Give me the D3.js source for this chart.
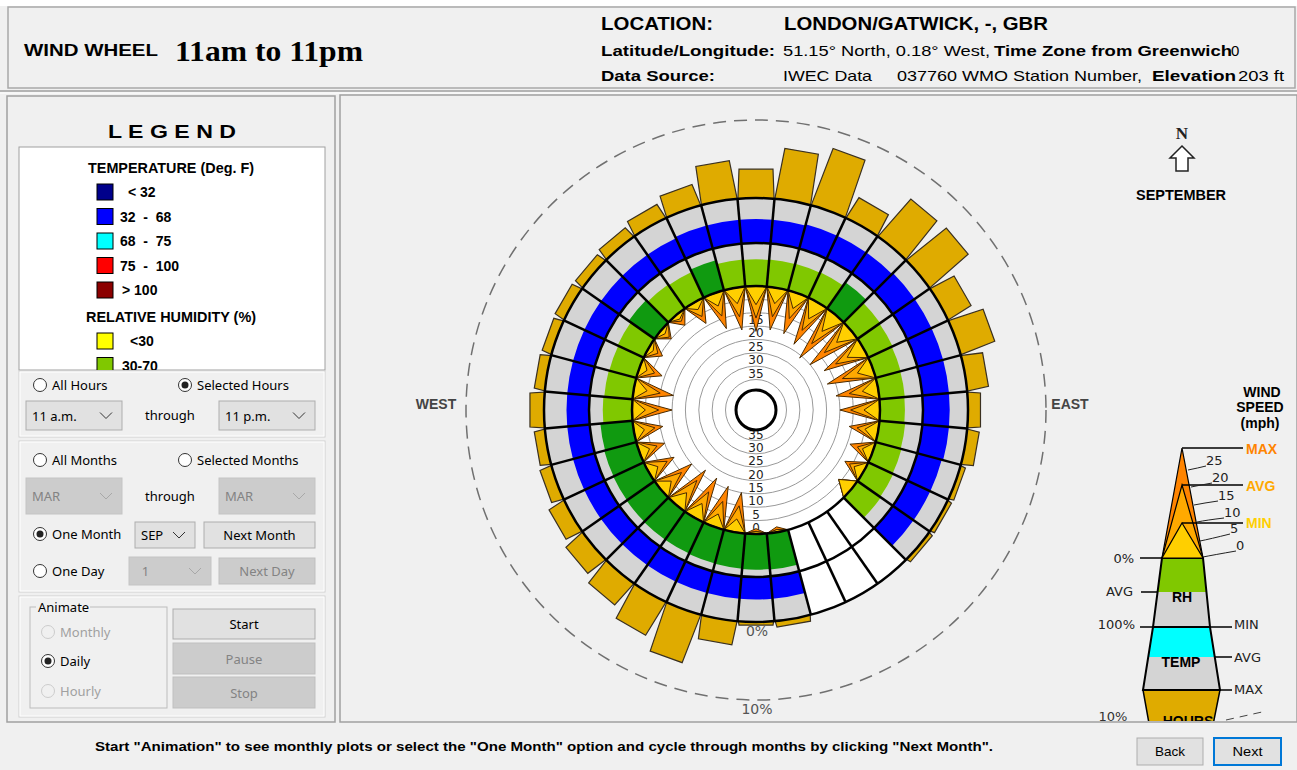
<!DOCTYPE html>
<html lang="en">
<head>
<meta charset="UTF-8">
<title>Wind Wheel</title>
<script src="https://cdn.jsdelivr.net/npm/d3@7/dist/d3.min.js"></script>
<style>
  body { margin: 0; background: #f0f0f0; }
  svg { display: block; }
  text { white-space: pre; }
</style>
</head>
<body>
<script>
// ---- data (September, 11am - 11pm, London/Gatwick) ----
const directions = [0, 10, 20, 30, 40, 50, 60, 70, 80, 90, 100, 110, 120, 130, 140, 150, 160, 170,
                    180, 190, 200, 210, 220, 230, 240, 250, 260, 270, 280, 290, 300, 310, 320, 330, 340, 350];
// % of hours wind comes from each direction (null = no data)
const hoursPct = [3.7, 6.5, 7.7, 3.0, 6.3, 6.5, 3.4, 4.6, 2.7, 1.6, 1.5, 0.6, 0.5, 0.5, null, null, null, 0.7,
                  0.4, 3.0, 6.5, 4.9, 3.6, 2.8, 2.2, 1.5, 1.3, 1.8, 1.3, 1.2, 1.3, 1.2, 1.5, 2.0, 2.8, 4.9];
// wind speed, mph
const windMax = [17, 16, 16, 18, 21, 20, 17, 18, 16, 15, 11, 9, 8, 6, null, null, null, 2,
                 2, 15, 16, 17, 17, 15, 11, 10, 11, 15, 15, 9, 6, 5, 5, 9, 14, 16];
const windAvg = [12, 11, 10, 12, 14, 13, 12, 12, 11, 11, 8, 6, 6, 6, null, null, null, 1,
                 1, 10, 10, 11, 12, 10, 8, 7, 8, 10, 10, 6, 4, 4, 3, 6, 9, 11];
const windMin = [7, 6, 6, 7, 8, 7, 7, 6, 6, 6, 5, 4, 4, 6, null, null, null, 1,
                 1, 5, 5, 6, 6, 5, 4, 4, 4, 5, 5, 3, 2, 2, 2, 3, 5, 6];
// average relative humidity, %
const rhAvg = [62, 63, 64, 65, 74, 64, 62, 60, 59, 58, 60, 62, 64, 66, null, null, null, 84,
               83, 82, 81, 80, 80, 79, 78, 77, 75, 68, 66, 65, 67, 73, 68, 66, 72, 63];
// average dry bulb temperature, deg F
const tempAvg = [61, 61, 62, 62, 62, 63, 63, 63, 63, 63, 63, 62, 62, 62, null, null, null, 60,
                 60, 60, 60, 60, 60, 60, 60, 60, 60, 60, 60, 60, 60, 60, 60, 60, 61, 61];

const windTicks = [0, 5, 10, 15, 20, 25, 30, 35];
const windTicksUpper = [15, 20, 25, 30, 35];
const hourTicks = [0, 10];
const tempLegend = ['< 32', '32  -  68', '68  -  75', '75  -  100', '> 100'];
const rhLegend = ['<30', '30-70'];

// ---- colours ----
const tempColors = ['#00008b', '#0000ff', '#00ffff', '#ff0000', '#8b0000'];
const rhColors = ['#ffff00', '#80c800', '#109a10'];
const tempColor = t => t < 32 ? tempColors[0] : t < 68 ? tempColors[1] : t < 75 ? tempColors[2] : t < 100 ? tempColors[3] : tempColors[4];
const rhColor = h => h < 30 ? rhColors[0] : h <= 70 ? rhColors[1] : rhColors[2];
const GOLD = '#dfab00', GRAY = '#d4d4d4';

const W = 1297, H = 770;
const cx = 756, cy = 410;

const svg = d3.select('body').append('svg')
    .attr('width', W).attr('height', H)
    .style('font-family', '"Liberation Sans", Arial, sans-serif');

function txt(g, x, y, s, o = {}) {
  const t = g.append('text')
      .attr('x', x).attr('y', y)
      .attr('dominant-baseline', 'central')
      .attr('font-size', o.size || 13)
      .attr('font-weight', o.bold ? 'bold' : null)
      .attr('fill', o.fill || '#000')
      .attr('text-anchor', o.anchor || 'start')
      .text(s);
  if (o.family) t.attr('font-family', o.family);
  if (o.len) t.attr('textLength', o.len).attr('lengthAdjust', 'spacingAndGlyphs');
  return t;
}

svg.append('rect').attr('width', W).attr('height', H).attr('fill', '#f0f0f0');
svg.append('rect').attr('width', W).attr('height', 6).attr('fill', '#fff');

// ---- header ----
const head = svg.append('g');
head.append('rect').attr('x', 8).attr('y', 7).attr('width', 1287).attr('height', 81)
    .attr('fill', '#f0f0f0').attr('stroke', '#a8a8a8').attr('stroke-width', 1.5);
txt(head, 24, 50, 'WIND WHEEL', {bold: true, size: 17, len: 134});
txt(head, 175, 50, '11am to 11pm', {bold: true, size: 30, len: 188, family: '"Liberation Serif", serif'});
txt(head, 601, 24, 'LOCATION:', {bold: true, size: 18, len: 112});
txt(head, 784, 24, 'LONDON/GATWICK, -, GBR', {bold: true, size: 18, len: 264});
txt(head, 601, 50, 'Latitude/Longitude:', {bold: true, size: 15, len: 174});
txt(head, 783, 50, '51.15° North, 0.18° West,', {size: 15, len: 207});
txt(head, 994, 50, 'Time Zone from Greenwich', {bold: true, size: 15, len: 238});
txt(head, 1231, 50, '0', {size: 15});
txt(head, 601, 75, 'Data Source:', {bold: true, size: 15, len: 114});
txt(head, 783, 75, 'IWEC Data', {size: 15, len: 89});
txt(head, 897, 75, '037760 WMO Station Number,', {size: 15, len: 245});
txt(head, 1152, 75, 'Elevation', {bold: true, size: 15, len: 84});
txt(head, 1238, 75, '203 ft', {size: 15, len: 46});
svg.append('line').attr('x1', 0).attr('x2', W).attr('y1', 91).attr('y2', 91).attr('stroke', '#a0a0a0').attr('stroke-width', 1.5);
svg.append('line').attr('x1', 0).attr('x2', W).attr('y1', 93).attr('y2', 93).attr('stroke', '#fff');

// ---- left panel ----
const left = svg.append('g');
left.append('rect').attr('x', 7).attr('y', 96).attr('width', 328).attr('height', 626)
    .attr('fill', '#f0f0f0').attr('stroke', '#a0a0a0').attr('stroke-width', 1.5);
txt(left, 172, 131, 'L E G E N D', {bold: true, size: 19, anchor: 'middle', len: 128});

const lg = left.append('g');
const legClip = svg.append('clipPath').attr('id', 'legclip');
legClip.append('rect').attr('x', 19).attr('y', 147).attr('width', 306).attr('height', 223);
lg.append('rect').attr('x', 19).attr('y', 147).attr('width', 306).attr('height', 223)
    .attr('fill', '#fff').attr('stroke', '#a0a0a0');
const lgi = lg.append('g').attr('clip-path', 'url(#legclip)');
txt(lgi, 171, 168, 'TEMPERATURE (Deg. F)', {bold: true, size: 14, anchor: 'middle', len: 166});
tempLegend.forEach((s, i) => {
  const y = 192 + i * 24.5;
  lgi.append('rect').attr('x', 97).attr('y', y - 8).attr('width', 16).attr('height', 16)
      .attr('fill', tempColors[i]).attr('stroke', '#000');
  txt(lgi, i === 0 ? 128 : i === 4 ? 122 : 120, y, s, {bold: true, size: 14});
});
txt(lgi, 171, 317, 'RELATIVE HUMIDITY (%)', {bold: true, size: 14, anchor: 'middle', len: 170});
rhLegend.forEach((s, i) => {
  const y = 341 + i * 24.5;
  lgi.append('rect').attr('x', 97).attr('y', y - 8).attr('width', 16).attr('height', 16)
      .attr('fill', rhColors[i]).attr('stroke', '#000');
  txt(lgi, i === 0 ? 130 : 122, y, s, {bold: true, size: 14});
});

const UI = '"Noto Sans", "Open Sans", sans-serif';
function radio(g, x, y, label, checked, disabled) {
  g.append('circle').attr('cx', x).attr('cy', y).attr('r', 6.5)
      .attr('fill', disabled ? '#f0f0f0' : '#fff').attr('stroke', disabled ? '#ccc' : '#333');
  if (checked) g.append('circle').attr('cx', x).attr('cy', y).attr('r', 3.5).attr('fill', '#222');
  txt(g, x + 12, y, label, {size: 13, family: UI, fill: disabled ? '#a0a0a0' : '#000'});
}
function combo(g, x, y, w, h, label, disabled) {
  g.append('rect').attr('x', x).attr('y', y).attr('width', w).attr('height', h)
      .attr('fill', disabled ? '#cccccc' : '#e1e1e1').attr('stroke', disabled ? '#c4c4c4' : '#adadad');
  txt(g, x + 6, y + h / 2, label, {size: 13, family: UI, fill: disabled ? '#838383' : '#000'});
  const ax = x + w - 16, ay = y + h / 2;
  g.append('path').attr('d', `M${ax - 6},${ay - 3}L${ax},${ay + 3}L${ax + 6},${ay - 3}`)
      .attr('fill', 'none').attr('stroke', disabled ? '#a8a8a8' : '#333');
}
function button(g, x, y, w, h, label, o = {}) {
  g.append('rect').attr('x', x).attr('y', y).attr('width', w).attr('height', h)
      .attr('fill', o.disabled ? '#cccccc' : '#e1e1e1')
      .attr('stroke', o.focus ? '#0078d7' : o.disabled ? '#bfbfbf' : '#adadad')
      .attr('stroke-width', o.focus ? 2 : 1);
  txt(g, x + w / 2, y + h / 2, label, {size: o.size || 13, family: o.family || UI, anchor: 'middle',
      fill: o.disabled ? '#838383' : '#000', bold: o.bold, len: o.len});
}
function box(g, x, y, w, h) {
  g.append('rect').attr('x', x).attr('y', y).attr('width', w).attr('height', h)
      .attr('fill', 'none').attr('stroke', '#d0d0d0');
  g.append('rect').attr('x', x + 1).attr('y', y + 1).attr('width', w - 2).attr('height', h - 2)
      .attr('fill', 'none').attr('stroke', '#fff');
}
box(left, 19, 371, 306, 66);
radio(left, 40, 385, 'All Hours', false, false);
radio(left, 185, 385, 'Selected Hours', true, false);
combo(left, 26, 401, 96, 29, '11 a.m.', false);
txt(left, 170, 415, 'through', {size: 13, family: UI, anchor: 'middle'});
combo(left, 219, 401, 96, 29, '11 p.m.', false);

box(left, 19, 441, 306, 151);
radio(left, 40, 460, 'All Months', false, false);
radio(left, 185, 460, 'Selected Months', false, false);
combo(left, 26, 478, 96, 36, 'MAR', true);
txt(left, 170, 496, 'through', {size: 13, family: UI, anchor: 'middle'});
combo(left, 219, 478, 96, 36, 'MAR', true);
radio(left, 40, 534, 'One Month', true, false);
combo(left, 135, 522, 60, 26, 'SEP', false);
button(left, 204, 522, 111, 26, 'Next Month');
radio(left, 40, 571, 'One Day', false, false);
combo(left, 129, 557, 82, 28, '  1', true);
button(left, 219, 558, 96, 26, 'Next Day', {disabled: true});

box(left, 19, 596, 306, 121);
left.append('rect').attr('x', 30).attr('y', 607).attr('width', 137).attr('height', 101)
    .attr('fill', 'none').attr('stroke', '#bcbcbc');
left.append('rect').attr('x', 36).attr('y', 600).attr('width', 54).attr('height', 14).attr('fill', '#f0f0f0');
txt(left, 38, 607, 'Animate', {size: 13, family: UI});
radio(left, 48, 632, 'Monthly', false, true);
radio(left, 48, 661, 'Daily', true, false);
radio(left, 48, 691, 'Hourly', false, true);
button(left, 173, 609, 142, 30, 'Start');
button(left, 173, 643, 142, 31, 'Pause', {disabled: true});
button(left, 173, 677, 142, 31, 'Stop', {disabled: true});

// ---- main chart panel ----
svg.append('rect').attr('x', 340).attr('y', 95).attr('width', 957).attr('height', 627)
    .attr('fill', '#f0f0f0').attr('stroke', '#a0a0a0').attr('stroke-width', 1.5);
svg.append('clipPath').attr('id', 'panelclip')
  .append('rect').attr('x', 342).attr('y', 96).attr('width', 954).attr('height', 625);
const panel = svg.append('g').attr('clip-path', 'url(#panelclip)');

// scales
const rWind = d3.scaleLinear().domain([0, 35]).range([124, 30.5]);
const rRH = d3.scaleLinear().domain([0, 100]).range([124, 167]);
const rTemp = d3.scaleLinear().domain([44, 76]).range([167, 212]);
const rHours = d3.scaleLinear().domain([0, 10]).range([212, 290]);
const ang = d3.scaleLinear().domain([0, 360]).range([0, 2 * Math.PI]);
const HALF = 5;
const pt = (deg, r) => [r * Math.sin(ang(deg)), -r * Math.cos(ang(deg))];

const wheel = panel.append('g').attr('transform', `translate(${cx},${cy})`);
const sectors = directions.map((d, i) => ({
  dir: d, hours: hoursPct[i], max: windMax[i], avg: windAvg[i], min: windMin[i], rh: rhAvg[i], temp: tempAvg[i]
}));

// 10% dashed ring + % labels
wheel.append('circle').attr('r', rHours(10)).attr('fill', 'none')
    .attr('stroke', '#707070').attr('stroke-width', 1.5).attr('stroke-dasharray', '13 8');
hourTicks.forEach(t => txt(wheel, 1, rHours(t) + 9, t + '%', {size: 14, anchor: 'middle', fill: '#555', family: '"DejaVu Sans", sans-serif'}));

// hours bars
const barW = 17;
wheel.append('g').selectAll('path')
  .data(sectors.filter(s => s.hours))
  .join('path')
    .attr('d', s => {
      const a = ang(s.dir);
      const r0 = rHours(0) - 3, r1 = rHours(s.hours);
      const u = [Math.sin(a), -Math.cos(a)], p = [Math.cos(a), Math.sin(a)];
      const b0 = pt(s.dir - HALF, r0), b1 = pt(s.dir + HALF, r0);
      const t0 = [u[0] * r1 - p[0] * barW, u[1] * r1 - p[1] * barW];
      const t1 = [u[0] * r1 + p[0] * barW, u[1] * r1 + p[1] * barW];
      return 'M' + [b0, t0, t1, b1].join('L') + 'Z';
    })
    .attr('fill', GOLD).attr('stroke', '#3a3020').attr('stroke-width', 1.2);

// RH + temperature rings
const arc = d3.arc();
const ringG = wheel.append('g');
sectors.forEach(s => {
  const a0 = ang(s.dir - HALF), a1 = ang(s.dir + HALF);
  const noData = s.rh == null;
  ringG.append('path').attr('d', arc({innerRadius: rRH(0), outerRadius: rRH(100), startAngle: a0, endAngle: a1}))
      .attr('fill', noData ? '#fff' : GRAY);
  ringG.append('path').attr('d', arc({innerRadius: rTemp.range()[0], outerRadius: rTemp.range()[1], startAngle: a0, endAngle: a1}))
      .attr('fill', noData ? '#fff' : GRAY);
  if (noData) return;
  ringG.append('path').attr('d', arc({innerRadius: rRH(0), outerRadius: rRH(s.rh), startAngle: a0, endAngle: a1}))
      .attr('fill', rhColor(s.rh));
  ringG.append('path').attr('d', arc({innerRadius: rTemp.range()[0], outerRadius: rTemp(s.temp), startAngle: a0, endAngle: a1}))
      .attr('fill', tempColor(s.temp));
});

// wind speed area
wheel.append('circle').attr('r', rWind(0)).attr('fill', '#fff');
wheel.append('g').selectAll('circle').data(windTicks.slice(1)).join('circle')
    .attr('r', d => rWind(d)).attr('fill', 'none').attr('stroke', '#9a9a9a').attr('stroke-width', 1);
const lblFont = '"DejaVu Sans", Verdana, sans-serif';
windTicks.forEach(t => txt(wheel, 0, rWind(t) - 6, String(t), {size: 12, anchor: 'middle', fill: '#222', family: lblFont}));
windTicksUpper.forEach(t => txt(wheel, 0, -rWind(t) - 6, String(t), {size: 12, anchor: 'middle', fill: '#222', family: lblFont}));

// speed spikes: max, avg, min nested
const spikeSeries = [
  {key: 'max', fill: '#ff8400'},
  {key: 'avg', fill: '#ffa900'},
  {key: 'min', fill: '#ffcf00'}
];
spikeSeries.forEach(ser => {
  wheel.append('g').selectAll('path')
    .data(sectors.filter(s => s[ser.key] != null))
    .join('path')
      .attr('d', s => 'M' + [pt(s.dir - HALF, rWind(0)), pt(s.dir, rWind(s[ser.key])), pt(s.dir + HALF, rWind(0))].join('L') + 'Z')
      .attr('fill', ser.fill).attr('stroke', '#4a2a00').attr('stroke-width', 1)
      .attr('stroke-linejoin', 'miter');
});

// ring outlines
[rWind(0), rRH(100), rTemp.range()[1]].forEach(r =>
  wheel.append('circle').attr('r', r).attr('fill', 'none').attr('stroke', '#000').attr('stroke-width', 2.5));
wheel.append('g').selectAll('line').data(sectors).join('line')
    .attr('x1', s => pt(s.dir - HALF, rWind(0))[0]).attr('y1', s => pt(s.dir - HALF, rWind(0))[1])
    .attr('x2', s => pt(s.dir - HALF, rTemp.range()[1])[0]).attr('y2', s => pt(s.dir - HALF, rTemp.range()[1])[1])
    .attr('stroke', '#000').attr('stroke-width', 2.5);
wheel.append('circle').attr('r', 20).attr('fill', '#fff').attr('stroke', '#000').attr('stroke-width', 3);

// compass labels
txt(panel, 436, 404, 'WEST', {bold: true, size: 14, anchor: 'middle', fill: '#444'});
txt(panel, 1070, 404, 'EAST', {bold: true, size: 14, anchor: 'middle', fill: '#444'});
txt(panel, 1182, 133, 'N', {bold: true, size: 17, anchor: 'middle', fill: '#222', family: '"Liberation Serif", serif'});
panel.append('path').attr('d', 'M1182,146L1194,158L1188,158L1188,171L1176,171L1176,158L1170,158Z')
    .attr('fill', '#fff').attr('stroke', '#222').attr('stroke-width', 1.5);
txt(panel, 1181, 195, 'SEPTEMBER', {bold: true, size: 14, anchor: 'middle', len: 90});

// ---- wind speed key (cone) ----
const key = panel.append('g');
txt(key, 1262, 392, 'WIND', {bold: true, size: 14, anchor: 'middle'});
txt(key, 1260, 407, 'SPEED', {bold: true, size: 14, anchor: 'middle'});
txt(key, 1260, 423, '(mph)', {bold: true, size: 14, anchor: 'middle'});
const line = (x1, y1, x2, y2) => key.append('line').attr('x1', x1).attr('y1', y1).attr('x2', x2).attr('y2', y2)
    .attr('stroke', '#000').attr('stroke-width', 1.5);
const poly = (pts, fill, sw) => key.append('path').attr('d', 'M' + pts.join('L') + 'Z')
    .attr('fill', fill).attr('stroke', sw ? '#000' : 'none').attr('stroke-width', sw || 0);

// hours
poly([[1143, 690], [1220, 690], [1210, 740], [1152, 740]], GOLD, 1.5);
txt(key, 1188, 721, 'HOURS', {bold: true, size: 14, anchor: 'middle'});
txt(key, 1113, 716, '10%', {size: 13, anchor: 'middle', fill: '#333', family: lblFont});
key.append('path').attr('d', 'M1226,720L1262,712').attr('stroke', '#444').attr('stroke-dasharray', '8 6');
// temp
poly([[1153, 627], [1210, 627], [1220, 690], [1143, 690]], GRAY, 0);
poly([[1153, 627], [1210, 627], [1215, 657], [1148, 657]], '#00ffff', 0);
poly([[1153, 627], [1210, 627], [1220, 690], [1143, 690]], 'none', 2);
txt(key, 1181, 662, 'TEMP', {bold: true, size: 14, anchor: 'middle'});
// rh
poly([[1162, 558], [1203, 558], [1210, 627], [1153, 627]], GRAY, 0);
poly([[1162, 558], [1203, 558], [1206, 592], [1158, 592]], rhColors[1], 0);
poly([[1162, 558], [1203, 558], [1210, 627], [1153, 627]], 'none', 2);
txt(key, 1182, 597, 'RH', {bold: true, size: 14, anchor: 'middle'});
// wind triangles
poly([[1182, 448], [1203, 558], [1162, 558]], '#ff8400', 1.2);
poly([[1182, 485], [1203, 558], [1162, 558]], '#ffa900', 1.2);
poly([[1182, 523], [1203, 558], [1162, 558]], '#ffcf00', 1.2);
line(1182, 448, 1243, 448); line(1182, 485, 1243, 485); line(1182, 523, 1243, 523);
txt(key, 1246, 449, 'MAX', {bold: true, size: 14, fill: '#ff8400'});
txt(key, 1246, 486, 'AVG', {bold: true, size: 14, fill: '#ffa900'});
txt(key, 1246, 523, 'MIN', {bold: true, size: 14, fill: '#ffcf00'});
const keyTicks = [[25, 1188, 470, 1210, 460], [20, 1191, 487, 1216, 477], [15, 1194, 505, 1222, 495],
                  [10, 1197, 522, 1228, 512], [5, 1200, 541, 1234, 528], [0, 1203, 557, 1240, 545]];
keyTicks.forEach(([v, x0, y0, x1, y1]) => {
  key.append('path').attr('d', `M${x0},${y0}Q${x0 + 10},${y0 - 2} ${x1 - 4},${y1 + 6}`)
      .attr('fill', 'none').attr('stroke', '#222').attr('stroke-width', 1);
  txt(key, x1 - 4, y1, String(v), {size: 13, family: lblFont, fill: '#222'});
});
// side labels
line(1140, 558, 1162, 558); txt(key, 1134, 558, '0%', {size: 13, anchor: 'end', family: lblFont, fill: '#222'});
line(1141, 592, 1158, 592); txt(key, 1133, 591, 'AVG', {size: 13, anchor: 'end', family: lblFont, fill: '#222'});
line(1140, 627, 1153, 627); txt(key, 1135, 624, '100%', {size: 13, anchor: 'end', family: lblFont, fill: '#222'});
line(1210, 627, 1232, 627); txt(key, 1234, 624, 'MIN', {size: 13, family: lblFont, fill: '#222'});
line(1215, 657, 1232, 657); txt(key, 1234, 657, 'AVG', {size: 13, family: lblFont, fill: '#222'});
line(1220, 690, 1232, 690); txt(key, 1234, 689, 'MAX', {size: 13, family: lblFont, fill: '#222'});

// ---- status bar ----
txt(svg, 95, 746, 'Start "Animation" to see monthly plots or select the "One Month" option and cycle through months by clicking "Next Month".',
    {bold: true, size: 13, len: 898});
button(svg, 1137, 738, 66, 27, 'Back', {family: '"Liberation Sans", Arial, sans-serif', size: 13, len: 30});
button(svg, 1214, 738, 67, 27, 'Next', {focus: true, family: '"Liberation Sans", Arial, sans-serif', size: 13, len: 30});
</script>
</body>
</html>
